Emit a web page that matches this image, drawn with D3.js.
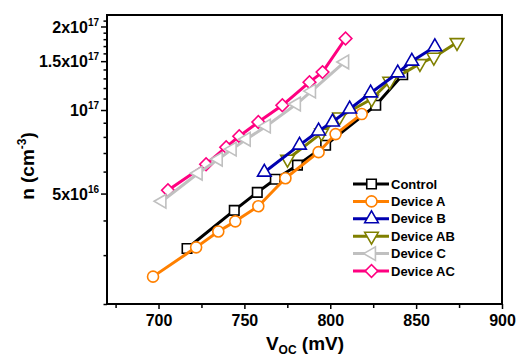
<!DOCTYPE html>
<html>
<head>
<meta charset="utf-8">
<script src="https://cdn.jsdelivr.net/npm/d3@7"></script>
<style>
  html, body { margin: 0; padding: 0; background: #fff; }
  svg { display: block; }
  text { font-family: "Liberation Sans", Arial, Helvetica, sans-serif; font-weight: bold; fill: #000; }
</style>
</head>
<body>
<script>
// ---------- data ----------
const seriesNames = ["Control", "Device A", "Device B", "Device AB", "Device C", "Device AC"];
const seriesColors = ["#000000", "#FF8000", "#0000B0", "#808000", "#C0C0C0", "#FF0080"];

const controlV = [716.6, 744.1, 757.5, 768.0, 780.9, 797.3, 826.5, 842.2];
const controlN = [3.17e16, 4.35e16, 5.05e16, 5.63e16, 6.33e16, 7.47e16, 1.04e17, 1.34e17];

const deviceAV = [696.8, 721.9, 734.8, 744.7, 758.1, 773.9, 793.2, 803.1, 818.3];
const deviceAN = [2.51e16, 3.20e16, 3.65e16, 3.97e16, 4.50e16, 5.68e16, 7.05e16, 8.19e16, 9.67e16];

const deviceBV = [761.6, 782.1, 793.2, 801.3, 811.3, 823.5, 839.3, 847.5, 860.9];
const deviceBN = [5.97e16, 7.47e16, 8.40e16, 9.05e16, 1.008e17, 1.152e17, 1.36e17, 1.50e17, 1.69e17];

const deviceABV = [775.1, 794.9, 805.4, 824.1, 834.6, 852.2, 860.3, 873.8];
const deviceABN = [6.65e16, 8.26e16, 9.44e16, 1.096e17, 1.27e17, 1.47e17, 1.55e17, 1.75e17];

const deviceCV = [702.0, 723.1, 734.8, 742.9, 751.1, 762.8, 780.3, 789.1, 808.4];
const deviceCN = [4.69e16, 5.92e16, 6.65e16, 7.23e16, 7.85e16, 8.75e16, 1.051e17, 1.17e17, 1.49e17];

const deviceACV = [705.5, 727.7, 739.4, 747.0, 758.1, 772.1, 787.9, 795.5, 808.9];
const deviceACN = [5.14e16, 6.38e16, 7.35e16, 8.05e16, 9.05e16, 1.04e17, 1.26e17, 1.37e17, 1.81e17];

const xMajorTicks = [700, 750, 800, 850, 900];
const xMinorTicks = [675, 725, 775, 825, 875];
const yMajorTicks = [5e16, 1e17, 1.5e17, 2e17];
const yMajorLabels = [["5x10", "16"], ["10", "17"], ["1.5x10", "17"], ["2x10", "17"]];
const yMinorTicks = [2e16, 3e16, 4e16, 6e16, 7e16, 8e16, 9e16,
  1.1e17, 1.2e17, 1.3e17, 1.4e17, 1.6e17, 1.7e17, 1.8e17, 1.9e17, 2.1e17];

const series = [
  { name: seriesNames[0], color: seriesColors[0], v: controlV, n: controlN, marker: "square" },
  { name: seriesNames[1], color: seriesColors[1], v: deviceAV, n: deviceAN, marker: "circle" },
  { name: seriesNames[2], color: seriesColors[2], v: deviceBV, n: deviceBN, marker: "triUp" },
  { name: seriesNames[3], color: seriesColors[3], v: deviceABV, n: deviceABN, marker: "triDown" },
  { name: seriesNames[4], color: seriesColors[4], v: deviceCV, n: deviceCN, marker: "triLeft" },
  { name: seriesNames[5], color: seriesColors[5], v: deviceACV, n: deviceACN, marker: "diamond" }
];
const drawOrder = [0, 1, 5, 4, 3, 2];

// ---------- layout ----------
const W = 517, H = 359;
const L = 107, R = 502, T = 15, B = 304;

const svg = d3.select("body").append("svg").attr("width", W).attr("height", H);

const x = d3.scaleLinear().domain([670, 900]).range([L, R]);
const y = d3.scaleLog().domain([2e16, 2.2e17]).range([B, T]);

function markerPath(type) {
  switch (type) {
    case "square": return d3.symbol(d3.symbolSquare, 90)();
    case "circle": return d3.symbol(d3.symbolCircle, 95)();
    case "triUp": return d3.symbol(d3.symbolTriangle, 80)();
    case "triDown": return d3.symbol(d3.symbolTriangle, 80)();
    case "triLeft": return d3.symbol(d3.symbolTriangle, 80)();
    case "diamond": return d3.symbol(d3.symbolSquare, 80)();
  }
}
function markerRot(type) {
  return { triDown: 180, triLeft: -90, diamond: 45 }[type] || 0;
}

// ---------- series ----------
const line = d3.line().x(d => x(d[0])).y(d => y(d[1]));
const plot = svg.append("g");
drawOrder.forEach(i => {
  const s = series[i];
  const pts = s.v.map((v, k) => [v, s.n[k]]);
  const g = plot.append("g");
  g.append("path").datum(pts).attr("d", line)
    .attr("fill", "none").attr("stroke", s.color).attr("stroke-width", 3)
    .attr("stroke-linejoin", "round");
  g.selectAll("path.m").data(pts).enter().append("path").attr("class", "m")
    .attr("d", markerPath(s.marker))
    .attr("transform", d => `translate(${x(d[0])},${y(d[1])}) rotate(${markerRot(s.marker)})`)
    .attr("fill", "#fff").attr("stroke", s.color).attr("stroke-width", 1.6);
});

// ---------- frame ----------
svg.append("rect").attr("x", L).attr("y", T).attr("width", R - L).attr("height", B - T)
  .attr("fill", "none").attr("stroke", "#000").attr("stroke-width", 2);

// ---------- x axis ----------
const xAxis = svg.append("g").attr("transform", `translate(0,${B})`)
  .call(d3.axisBottom(x).tickValues(xMajorTicks).tickSize(5).tickPadding(6).tickFormat(d3.format("d")));
const xMinor = svg.append("g").attr("transform", `translate(0,${B})`)
  .call(d3.axisBottom(x).tickValues(xMinorTicks).tickSize(4).tickFormat(""));
[xAxis, xMinor].forEach(g => {
  g.select(".domain").remove();
  g.selectAll("line").attr("stroke", "#000").attr("stroke-width", 1.5);
});
xAxis.selectAll("text").attr("font-size", 16).attr("font-family", "Liberation Sans, Arial, sans-serif")
  .attr("font-weight", "bold").attr("fill", "#000");

// ---------- y axis ----------
const yAxis = svg.append("g").attr("transform", `translate(${L},0)`)
  .call(d3.axisLeft(y).tickValues(yMajorTicks).tickSize(6).tickPadding(5).tickFormat(""));
const yMinor = svg.append("g").attr("transform", `translate(${L},0)`)
  .call(d3.axisLeft(y).tickValues(yMinorTicks).tickSize(3.5).tickFormat(""));
[yAxis, yMinor].forEach(g => {
  g.select(".domain").remove();
  g.selectAll("line").attr("stroke", "#000").attr("stroke-width", 1.5);
});
yAxis.selectAll(".tick").each(function (d, i) {
  const t = d3.select(this).select("text")
    .attr("x", -8).attr("dy", "0.35em").attr("text-anchor", "end")
    .attr("font-size", 16).attr("fill", "#000")
    .attr("font-family", "Liberation Sans, Arial, sans-serif").attr("font-weight", "bold");
  t.text(null);
  t.append("tspan").text(yMajorLabels[i][0]);
  t.append("tspan").attr("font-size", 10).attr("dy", "-0.7em").text(yMajorLabels[i][1]);
});

// ---------- axis titles ----------
const xt = svg.append("text").attr("x", 305).attr("y", 350).attr("text-anchor", "middle").attr("font-size", 19);
xt.append("tspan").text("V");
xt.append("tspan").attr("font-size", 12).attr("dy", 4).text("OC");
xt.append("tspan").attr("dy", -4).text(" (mV)");

const yt = svg.append("text").attr("transform", "translate(34,166) rotate(-90)")
  .attr("text-anchor", "middle").attr("font-size", 19);
yt.append("tspan").text("n (cm");
yt.append("tspan").attr("font-size", 12).attr("dy", -8).text("-3");
yt.append("tspan").attr("dy", 8).text(")");

// ---------- legend ----------
const lg = svg.append("g");
series.forEach((s, i) => {
  const yy = 184 + i * 17.4;
  lg.append("line").attr("x1", 353).attr("x2", 389).attr("y1", yy).attr("y2", yy)
    .attr("stroke", s.color).attr("stroke-width", 3);
  lg.append("path").attr("d", markerPath(s.marker))
    .attr("transform", `translate(371.5,${yy}) rotate(${markerRot(s.marker)})`)
    .attr("fill", "#fff").attr("stroke", s.color).attr("stroke-width", 1.6);
  lg.append("text").attr("x", 391).attr("y", yy).attr("dy", "0.36em").attr("font-size", 13).text(s.name);
});
</script>
</body>
</html>
